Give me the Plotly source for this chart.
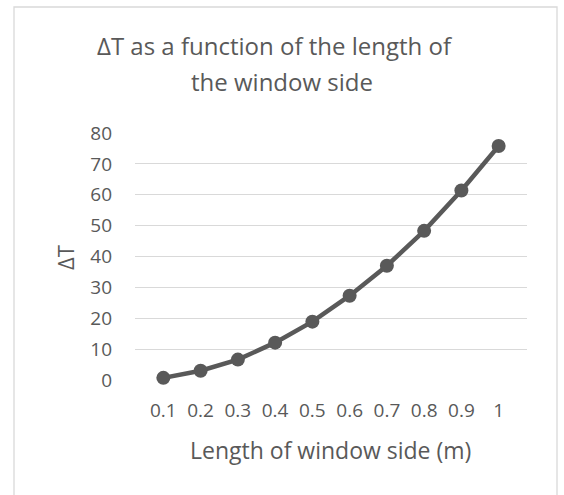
import plotly.graph_objects as go

categories = ["0.1", "0.2", "0.3", "0.4", "0.5", "0.6", "0.7", "0.8", "0.9", "1"]
delta_t = [0.7, 3.0, 6.6, 12.1, 18.9, 27.3, 37.0, 48.3, 61.4, 75.8]
y_ticks = [0, 10, 20, 30, 40, 50, 60, 70, 80]

title_lines = ["ΔT as a function of the length of", "the window side"]
x_title = "Length of window side (m)"
y_title = "ΔT"

FONT = "Open Sans"
TXT = "#595959"

W, H = 564, 495
L, T, PW, PH = 135, 133, 392, 247
R = W - L - PW
B = H - T - PH


def px(x):
    return (x - L) / PW


def py(y):
    return (T + PH - y) / PH


fig = go.Figure()
fig.add_trace(go.Scatter(
    x=categories, y=delta_t, mode="lines+markers",
    line=dict(color="#595959", width=4.5),
    marker=dict(color="#595959", size=14),
    showlegend=False, cliponaxis=False,
))

fig.update_layout(
    width=W, height=H,
    margin=dict(l=L, r=R, t=T, b=B),
    paper_bgcolor="white", plot_bgcolor="white",
    font=dict(family=FONT, color=TXT),
    xaxis=dict(type="category", showgrid=False, zeroline=False, showline=False,
               ticks="", tickfont=dict(size=19, color=TXT), ticklabelstandoff=17),
    yaxis=dict(range=[0, 80], tickvals=y_ticks, showgrid=True, gridcolor="#d9d9d9",
               gridwidth=1.3, zeroline=False, showline=False, ticks="",
               tickfont=dict(size=19, color=TXT), ticklabelstandoff=22),
)

annots = [
    dict(text=title_lines[0], x=px(275), y=py(46), size=24),
    dict(text=title_lines[1], x=px(282), y=py(82), size=24),
    dict(text=x_title, x=px(330), y=py(450), size=23),
]
for a in annots:
    fig.add_annotation(text=a["text"], xref="paper", yref="paper", x=a["x"], y=a["y"],
                       xanchor="center", yanchor="middle", showarrow=False,
                       font=dict(size=a["size"], color=TXT, family=FONT))
fig.add_annotation(text=y_title, xref="paper", yref="paper", x=px(65), y=py(258),
                   xanchor="center", yanchor="middle", showarrow=False, textangle=-90,
                   font=dict(size=22, color=TXT, family=FONT))

fig.add_shape(type="rect", xref="paper", yref="paper",
              x0=px(14), x1=px(557), y0=py(520), y1=py(7),
              line=dict(color="#d9d9d9", width=1.3), layer="below")

fig.write_html("out.html", config={"displayModeBar": False},
               post_script="document.body.style.margin='0';")
